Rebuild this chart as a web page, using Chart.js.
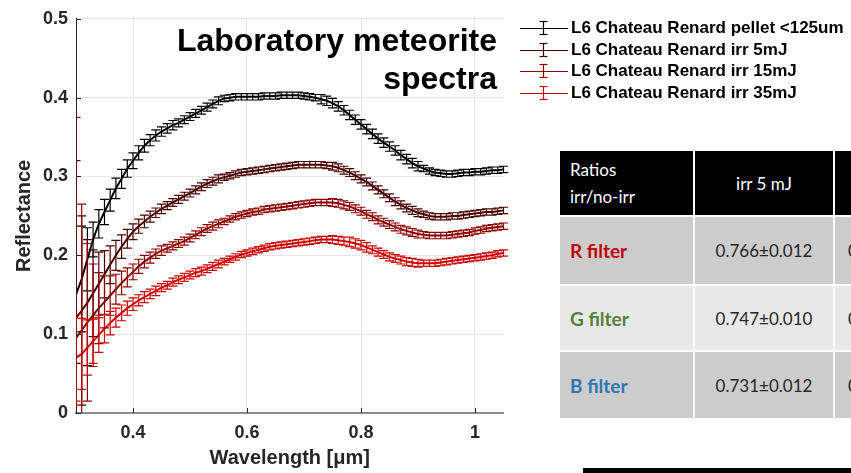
<!DOCTYPE html>
<html>
<head>
<meta charset="utf-8">
<script src="https://cdn.jsdelivr.net/npm/chart.js@4.4.1/dist/chart.umd.min.js"></script>
<style>
  html, body { margin: 0; padding: 0; background: #fff; }
  body { width: 851px; height: 473px; overflow: hidden; position: relative; font-family: "Liberation Sans", Arial, sans-serif; }
  #chart { position: absolute; left: 0; top: 0; }
  #title { position: absolute; right: 354px; top: 21px; font: bold 32px/38px "Liberation Sans", Arial, sans-serif; color: #000; text-align: right; white-space: nowrap; }
  #legend { position: absolute; left: 520px; top: 17px; }
  #legend .row { display: flex; align-items: center; height: 21.7px; font: bold 17px "Liberation Sans", Arial, sans-serif; color: #000; white-space: nowrap; }
  #legend svg { margin-right: 3px; }
  #ratios { position: absolute; left: 560px; top: 151px; display: grid; grid-template-columns: 133px 138px 80px; grid-template-rows: 64px 67px 64px 66px; gap: 2px; background: #fff; font-family: Lato, "Open Sans", sans-serif; }
  #ratios div { display: flex; align-items: center; justify-content: center; font-size: 17px; color: #262626; }
  #ratios .head { background: #000; color: #fff; }
  #ratios .head.first { justify-content: flex-start; padding-left: 10px; line-height: 27px; }
  #ratios .lab { justify-content: flex-start; padding-left: 10px; font-weight: bold; font-size: 19px; }
  #ratios .dark { background: #cccccc; }
  #ratios .light { background: #e8e8e8; }
  #ratios .cut { justify-content: flex-start; padding-left: 13px; }
  #bar { position: absolute; left: 583px; top: 468px; width: 268px; height: 5px; background: #000; }
</style>
</head>
<body>
<canvas id="chart" width="851" height="473"></canvas>
<div id="title">Laboratory meteorite<br>spectra</div>
<div id="legend"></div>
<div id="ratios"></div>
<div id="bar"></div>
<script>
// wavelength grid [um]
const wavelengths = [
  0.30, 0.31, 0.32, 0.33, 0.34, 0.35, 0.36, 0.37, 0.38, 0.39,
  0.40, 0.41, 0.42, 0.43, 0.44, 0.45, 0.46, 0.47, 0.48, 0.49,
  0.50, 0.51, 0.52, 0.53, 0.54, 0.55, 0.56, 0.57, 0.58, 0.59,
  0.60, 0.61, 0.62, 0.63, 0.64, 0.65, 0.66, 0.67, 0.68, 0.69,
  0.70, 0.71, 0.72, 0.73, 0.74, 0.75, 0.76, 0.77, 0.78, 0.79,
  0.80, 0.81, 0.82, 0.83, 0.84, 0.85, 0.86, 0.87, 0.88, 0.89,
  0.90, 0.91, 0.92, 0.93, 0.94, 0.95, 0.96, 0.97, 0.98, 0.99,
  1.00, 1.01, 1.02, 1.03, 1.04, 1.05
];

// reflectance
const pellet = [
  0.150, 0.170, 0.195, 0.220, 0.240, 0.255, 0.270, 0.285, 0.297, 0.310,
  0.320, 0.330, 0.339, 0.346, 0.352, 0.357, 0.361, 0.365, 0.368, 0.372,
  0.376, 0.380, 0.384, 0.388, 0.392, 0.396, 0.399, 0.400, 0.401, 0.401,
  0.401, 0.401, 0.401, 0.402, 0.402, 0.402, 0.403, 0.403, 0.403, 0.403,
  0.402, 0.401, 0.400, 0.398, 0.396, 0.393, 0.389, 0.384, 0.378, 0.372,
  0.366, 0.360, 0.354, 0.348, 0.343, 0.338, 0.333, 0.327, 0.322, 0.317,
  0.313, 0.310, 0.307, 0.305, 0.304, 0.303, 0.303, 0.304, 0.305, 0.305,
  0.306, 0.306, 0.307, 0.308, 0.308, 0.309
];
const irr5 = [
  0.120, 0.130, 0.140, 0.152, 0.164, 0.176, 0.188, 0.200, 0.211, 0.221,
  0.230, 0.237, 0.243, 0.249, 0.254, 0.259, 0.263, 0.267, 0.271, 0.275,
  0.279, 0.283, 0.287, 0.291, 0.294, 0.297, 0.299, 0.301, 0.303, 0.305,
  0.306, 0.307, 0.308, 0.309, 0.310, 0.311, 0.312, 0.313, 0.314, 0.315,
  0.315, 0.315, 0.315, 0.315, 0.314, 0.313, 0.311, 0.308, 0.305, 0.301,
  0.297, 0.293, 0.288, 0.283, 0.278, 0.273, 0.268, 0.264, 0.260, 0.257,
  0.254, 0.252, 0.250, 0.249, 0.249, 0.249, 0.250, 0.250, 0.251, 0.252,
  0.253, 0.254, 0.255, 0.255, 0.256, 0.257
];
const irr15 = [
  0.095, 0.105, 0.115, 0.124, 0.133, 0.141, 0.149, 0.157, 0.165, 0.172,
  0.179, 0.186, 0.192, 0.197, 0.202, 0.206, 0.209, 0.212, 0.215, 0.218,
  0.222, 0.226, 0.230, 0.234, 0.237, 0.240, 0.243, 0.246, 0.249, 0.251,
  0.253, 0.255, 0.256, 0.258, 0.259, 0.260, 0.261, 0.262, 0.263, 0.264,
  0.265, 0.266, 0.267, 0.267, 0.267, 0.267, 0.266, 0.264, 0.262, 0.259,
  0.256, 0.252, 0.249, 0.245, 0.242, 0.239, 0.236, 0.233, 0.231, 0.229,
  0.227, 0.226, 0.225, 0.225, 0.225, 0.225, 0.226, 0.227, 0.228, 0.229,
  0.231, 0.232, 0.234, 0.235, 0.236, 0.237
];
const irr35 = [
  0.070, 0.075, 0.083, 0.091, 0.099, 0.107, 0.114, 0.121, 0.127, 0.133,
  0.138, 0.143, 0.147, 0.151, 0.155, 0.159, 0.162, 0.166, 0.169, 0.172,
  0.175, 0.178, 0.180, 0.183, 0.186, 0.189, 0.192, 0.195, 0.198, 0.201,
  0.203, 0.205, 0.207, 0.209, 0.211, 0.212, 0.213, 0.214, 0.215, 0.216,
  0.217, 0.218, 0.219, 0.220, 0.220, 0.220, 0.219, 0.218, 0.217, 0.215,
  0.213, 0.210, 0.207, 0.204, 0.201, 0.198, 0.196, 0.194, 0.192, 0.191,
  0.190, 0.190, 0.190, 0.190, 0.191, 0.192, 0.193, 0.194, 0.195, 0.196,
  0.197, 0.198, 0.199, 0.200, 0.202, 0.203
];

// barras de error (+/-)
const pelletErr = [
  0.087, 0.067, 0.040, 0.022, 0.018, 0.016, 0.014, 0.013, 0.012, 0.011,
  0.010, 0.009, 0.008, 0.007, 0.007, 0.006, 0.006, 0.006, 0.005, 0.005,
  0.005, 0.005, 0.005, 0.005, 0.005, 0.005, 0.004, 0.004, 0.004, 0.004,
  0.004, 0.004, 0.004, 0.004, 0.004, 0.004, 0.004, 0.004, 0.004, 0.004,
  0.004, 0.004, 0.004, 0.006, 0.006, 0.006, 0.006, 0.006, 0.006, 0.006,
  0.006, 0.006, 0.006, 0.006, 0.006, 0.006, 0.006, 0.006, 0.006, 0.006,
  0.006, 0.004, 0.004, 0.004, 0.004, 0.004, 0.004, 0.004, 0.004, 0.004,
  0.004, 0.004, 0.004, 0.004, 0.004, 0.004
];
const irr5Err = [
  0.200, 0.120, 0.080, 0.055, 0.040, 0.030, 0.024, 0.019, 0.015, 0.012,
  0.010, 0.009, 0.008, 0.007, 0.006, 0.006, 0.005, 0.005, 0.005, 0.005,
  0.005, 0.005, 0.005, 0.005, 0.005, 0.005, 0.004, 0.004, 0.004, 0.004,
  0.004, 0.004, 0.004, 0.004, 0.004, 0.004, 0.004, 0.004, 0.004, 0.004,
  0.004, 0.004, 0.004, 0.004, 0.004, 0.005, 0.005, 0.005, 0.005, 0.005,
  0.005, 0.005, 0.005, 0.005, 0.005, 0.005, 0.005, 0.005, 0.005, 0.005,
  0.005, 0.004, 0.004, 0.004, 0.004, 0.004, 0.004, 0.004, 0.004, 0.004,
  0.004, 0.004, 0.004, 0.004, 0.004, 0.004
];
const irr15Err = [
  0.280, 0.160, 0.100, 0.065, 0.045, 0.033, 0.025, 0.019, 0.015, 0.012,
  0.010, 0.009, 0.008, 0.007, 0.006, 0.006, 0.005, 0.005, 0.005, 0.005,
  0.005, 0.005, 0.005, 0.005, 0.005, 0.005, 0.004, 0.004, 0.004, 0.004,
  0.004, 0.004, 0.004, 0.004, 0.004, 0.004, 0.004, 0.004, 0.004, 0.004,
  0.004, 0.004, 0.004, 0.004, 0.004, 0.005, 0.005, 0.005, 0.005, 0.005,
  0.005, 0.005, 0.005, 0.005, 0.005, 0.005, 0.005, 0.005, 0.005, 0.005,
  0.005, 0.004, 0.004, 0.004, 0.004, 0.004, 0.004, 0.004, 0.004, 0.004,
  0.004, 0.004, 0.004, 0.004, 0.004, 0.004
];
const irr35Err = [
  0.055, 0.045, 0.035, 0.028, 0.022, 0.018, 0.015, 0.012, 0.010, 0.009,
  0.008, 0.007, 0.007, 0.006, 0.006, 0.005, 0.005, 0.005, 0.005, 0.005,
  0.005, 0.005, 0.005, 0.005, 0.005, 0.005, 0.004, 0.004, 0.004, 0.004,
  0.004, 0.004, 0.004, 0.004, 0.004, 0.004, 0.004, 0.004, 0.004, 0.004,
  0.004, 0.004, 0.004, 0.004, 0.004, 0.005, 0.005, 0.005, 0.006, 0.006,
  0.006, 0.006, 0.005, 0.005, 0.005, 0.005, 0.005, 0.005, 0.005, 0.005,
  0.005, 0.004, 0.004, 0.004, 0.004, 0.004, 0.004, 0.004, 0.004, 0.004,
  0.004, 0.004, 0.004, 0.004, 0.004, 0.004
];

const seriesNames = [
  "L6 Chateau Renard pellet <125um",
  "L6 Chateau Renard irr 5mJ",
  "L6 Chateau Renard irr 15mJ",
  "L6 Chateau Renard irr 35mJ"
];
const seriesValues = [pellet, irr5, irr15, irr35];
const seriesErrors = [pelletErr, irr5Err, irr15Err, irr35Err];
const seriesColors = ["#000000", "#4a0000", "#8c0000", "#d00000"];

const xTicks = [0.4, 0.6, 0.8, 1.0];
const xTickLabels = ["0.4", "0.6", "0.8", "1"];
const yTicks = [0, 0.1, 0.2, 0.3, 0.4, 0.5];
const yTickLabels = ["0", "0.1", "0.2", "0.3", "0.4", "0.5"];

// tabla de ratios
const tableHeader = ["Ratios<br>irr/no-irr", "irr 5 mJ", ""];
const filterNames = ["R filter", "G filter", "B filter"];
const filterColors = ["#c00000", "#548235", "#2e75b6"];
const ratios5mJ = ["0.766±0.012", "0.747±0.010", "0.731±0.012"];
const ratiosNext = ["0.", "0.", "0."];

// barras de error dibujadas con las escalas del grafico
const errorBars = {
  id: "errorBars",
  afterDatasetsDraw(chart) {
    const { ctx, chartArea: a, scales: { x, y } } = chart;
    ctx.save();
    ctx.beginPath();
    ctx.rect(a.left, a.top - 2, a.right - a.left + 5, a.bottom - a.top + 2);
    ctx.clip();
    chart.data.datasets.forEach((ds) => {
      ctx.strokeStyle = ds.borderColor;
      ctx.lineWidth = 1.2;
      ctx.beginPath();
      ds.data.forEach((p, i) => {
        const px = x.getPixelForValue(p.x);
        const top = y.getPixelForValue(p.y + ds.errors[i]);
        const bot = y.getPixelForValue(p.y - ds.errors[i]);
        ctx.moveTo(px, top); ctx.lineTo(px, bot);
        ctx.moveTo(px - 4.5, top); ctx.lineTo(px + 4.5, top);
        ctx.moveTo(px - 4.5, bot); ctx.lineTo(px + 4.5, bot);
      });
      ctx.stroke();
    });
    ctx.restore();
  }
};

// marcas de los ejes hacia adentro (estilo matlab)
const innerTicks = {
  id: "innerTicks",
  afterDraw(chart) {
    const { ctx, chartArea: a, scales: { x, y } } = chart;
    ctx.save();
    ctx.strokeStyle = "#262626";
    ctx.lineWidth = 1;
    ctx.beginPath();
    x.ticks.forEach((t) => {
      const px = Math.round(x.getPixelForValue(t.value)) + 0.5;
      ctx.moveTo(px, a.bottom); ctx.lineTo(px, a.bottom - 5);
    });
    y.ticks.forEach((t) => {
      const py = Math.round(y.getPixelForValue(t.value)) + 0.5;
      ctx.moveTo(a.left, py); ctx.lineTo(a.left + 5, py);
    });
    ctx.stroke();
    ctx.restore();
  }
};

const tickFont = { family: "'Liberation Sans', Arial, sans-serif", size: 18, weight: "bold" };
const titleFont = { family: "'Liberation Sans', Arial, sans-serif", size: 20, weight: "bold" };

new Chart(document.getElementById("chart"), {
  type: "line",
  data: {
    datasets: seriesNames.map((name, s) => ({
      label: name,
      data: wavelengths.map((w, i) => ({ x: w, y: seriesValues[s][i] })),
      errors: seriesErrors[s],
      borderColor: seriesColors[s],
      borderWidth: 2,
      pointRadius: 0,
      tension: 0,
      order: seriesNames.length - s
    }))
  },
  options: {
    responsive: false,
    animation: false,
    devicePixelRatio: 1,
    layout: { padding: { left: 0, right: 347.5, top: 13, bottom: 0 } },
    plugins: { legend: { display: false }, tooltip: { enabled: false } },
    scales: {
      x: {
        type: "linear",
        min: 0.3,
        max: 1.05,
        afterBuildTicks: (scale) => { scale.ticks = xTicks.map((v) => ({ value: v })); },
        afterFit: (scale) => { scale.height = 60; },
        ticks: {
          callback: (v, i) => xTickLabels[i],
          color: "#262626",
          font: tickFont,
          padding: 9,
          maxRotation: 0
        },
        grid: { color: "#e6e6e6", drawTicks: false },
        border: { color: "#8c8c8c", width: 2 },
        title: {
          display: true,
          text: "Wavelength [\u03bcm]",
          color: "#262626",
          font: titleFont,
          padding: { top: 0, bottom: 3 }
        }
      },
      y: {
        min: 0,
        max: 0.5,
        afterBuildTicks: (scale) => { scale.ticks = yTicks.map((v) => ({ value: v })); },
        afterFit: (scale) => { scale.width = 76; },
        ticks: {
          callback: (v, i) => yTickLabels[i],
          color: "#262626",
          font: tickFont,
          padding: 8
        },
        grid: { color: "#e6e6e6", drawTicks: false },
        border: { color: "#262626", width: 1 },
        title: {
          display: true,
          text: "Reflectance",
          color: "#262626",
          font: titleFont,
          padding: { top: 12, bottom: 0 }
        }
      }
    }
  },
  plugins: [errorBars, innerTicks]
});

// leyenda
const legend = document.getElementById("legend");
seriesNames.forEach((name, s) => {
  const row = document.createElement("div");
  row.className = "row";
  const c = seriesColors[s];
  row.innerHTML =
    `<svg width="48" height="20" viewBox="0 0 48 20">` +
    `<line x1="0" y1="10.5" x2="48" y2="10.5" stroke="${c}" stroke-width="1.2"/>` +
    `<line x1="23.5" y1="3" x2="23.5" y2="17" stroke="${c}" stroke-width="1.2"/>` +
    `<line x1="19.5" y1="3.5" x2="27.5" y2="3.5" stroke="${c}" stroke-width="1.2"/>` +
    `<line x1="19.5" y1="16.5" x2="27.5" y2="16.5" stroke="${c}" stroke-width="1.2"/>` +
    `</svg><span>${name.replace("<", "&lt;")}</span>`;
  legend.appendChild(row);
});

// tabla
const table = document.getElementById("ratios");
table.innerHTML =
  `<div class="head first">${tableHeader[0]}</div>` +
  `<div class="head">${tableHeader[1]}</div>` +
  `<div class="head">${tableHeader[2]}</div>` +
  filterNames.map((f, r) => {
    const shade = r === 1 ? "light" : "dark";
    return `<div class="lab ${shade}" style="color:${filterColors[r]}">${f}</div>` +
      `<div class="${shade}">${ratios5mJ[r]}</div>` +
      `<div class="${shade} cut">${ratiosNext[r]}</div>`;
  }).join("");
</script>
</body>
</html>
